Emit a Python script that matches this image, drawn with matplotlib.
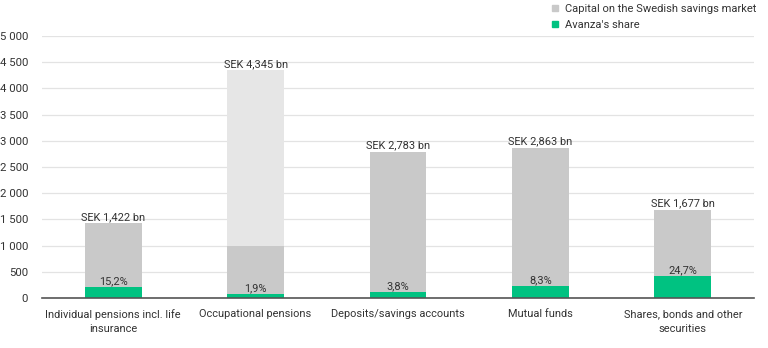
import matplotlib
matplotlib.use("Agg")
import matplotlib.pyplot as plt
from matplotlib.lines import Line2D
import numpy as np

categories = ["Individual pensions incl. life\ninsurance", "Occupational pensions",
              "Deposits/savings accounts", "Mutual funds", "Shares, bonds and other\nsecurities"]
totals = [1422, 4345, 2783, 2863, 1677]
total_labels = ["SEK 1,422 bn", "SEK 4,345 bn", "SEK 2,783 bn", "SEK 2,863 bn", "SEK 1,677 bn"]
shares_pct = [15.2, 1.9, 3.8, 8.3, 24.7]
share_labels = ["15,2%", "1,9%", "3,8%", "8,3%", "24,7%"]
# Occupational pensions: darker part up to 1000, lighter above
dark_part = [1422, 1000, 2783, 2863, 1677]
yticks = [0, 500, 1000, 1500, 2000, 2500, 3000, 3500, 4000, 4500, 5000]
ytick_labels = ["0", "500", "1 000", "1 500", "2 000", "2 500", "3 000", "3 500", "4 000", "4 500", "5 000"]

plt.rcParams['font.family'] = ['Roboto', 'DejaVu Sans']

GRAY = "#c9c9c9"
LIGHT = "#e6e6e6"
GREEN = "#00c281"
TXT = "#333333"
FS = 7.9

fig = plt.figure(figsize=(7.68, 3.48), dpi=100)
ax = fig.add_axes([42/768, 1-298/348, (754-42)/768, (298-36)/348])

x = np.arange(len(categories))
w = 0.4
green = [t * p / 100 for t, p in zip(totals, shares_pct)]
light = [t - d for t, d in zip(totals, dark_part)]

ax.bar(x, dark_part, width=w, color=GRAY, zorder=2)
ax.bar(x, light, width=w, bottom=dark_part, color=LIGHT, zorder=2)
ax.bar(x, green, width=w, color=GREEN, zorder=3)

for xi, t, lab in zip(x, totals, total_labels):
    ax.text(xi, t + 30, lab, ha='center', va='bottom', fontsize=FS, color=TXT)
for xi, g, lab in zip(x, green, share_labels):
    ax.text(xi, g + 15, lab, ha='center', va='bottom', fontsize=FS, color=TXT, zorder=4)

ax.set_xlim(-0.5, len(categories) - 0.5)
ax.set_ylim(0, 5000)
ax.set_yticks(yticks)
ax.set_yticklabels(ytick_labels)
ax.set_xticks(x)
ax.set_xticklabels(categories, fontsize=FS, color=TXT, linespacing=1.55)
ax.tick_params(axis='y', length=0, pad=10, labelsize=8.2, labelcolor=TXT)
ax.tick_params(axis='x', length=0, pad=8)
ax.yaxis.grid(True, color="#e3e3e3", linewidth=0.9, zorder=0)
ax.set_axisbelow(True)
for s in ['top', 'right', 'left']:
    ax.spines[s].set_visible(False)
ax.spines['bottom'].set_color("#555555")
ax.spines['bottom'].set_linewidth(1.2)
ax.spines['bottom'].set_zorder(5)

handles = [Line2D([], [], marker='s', linestyle='', markersize=3.8, color=GRAY),
           Line2D([], [], marker='s', linestyle='', markersize=3.8, color=GREEN)]
leg = fig.legend(handles, ["Capital on the Swedish savings market", "Avanza's share"],
                 loc='upper left', bbox_to_anchor=(549/768, 1 - 2/348), frameon=False,
                 fontsize=8.0, handlelength=0.6, handletextpad=0.6, labelspacing=0.5,
                 borderaxespad=0, borderpad=0.2)
for t in leg.get_texts():
    t.set_color(TXT)

fig.savefig("out.png", dpi=100)
